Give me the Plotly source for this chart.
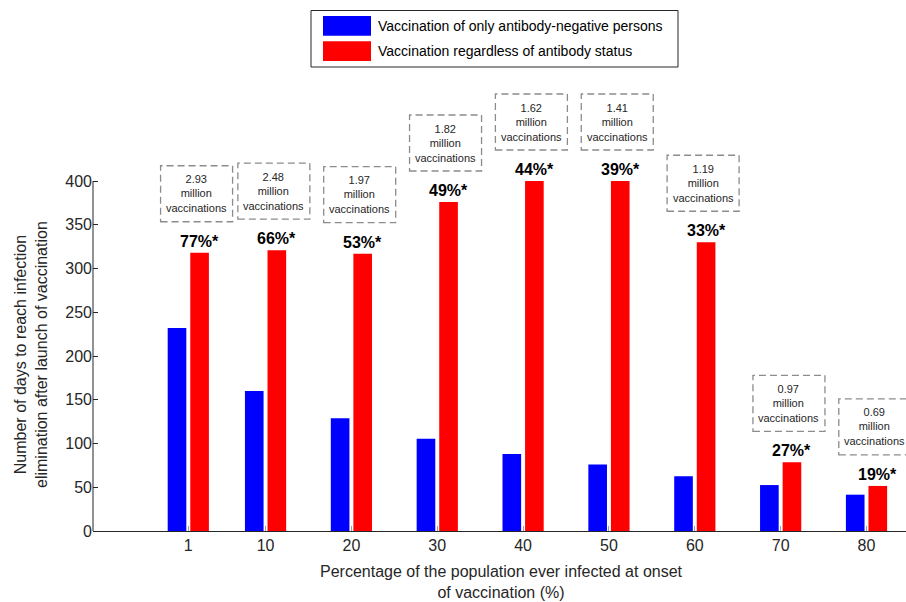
import plotly.graph_objects as go

# ---- data ----
x_vals = [1, 10, 20, 30, 40, 50, 60, 70, 80]
x_labels = ["1", "10", "20", "30", "40", "50", "60", "70", "80"]
blue_days = [232, 160, 129, 105.5, 88, 76, 62.5, 52.5, 41.5]
red_days = [318, 321, 317, 376, 400, 400, 330, 78.5, 51.5]
pct_labels = ["77%*", "66%*", "53%*", "49%*", "44%*", "39%*", "33%*", "27%*", "19%*"]
vacc_millions = ["2.93", "2.48", "1.97", "1.82", "1.62", "1.41", "1.19", "0.97", "0.69"]
y_ticks = [0, 50, 100, 150, 200, 250, 300, 350, 400]
series_names = ["Vaccination of only antibody-negative persons",
                "Vaccination regardless of antibody status"]

# ---- layout constants ----
W, H = 906, 602
L, R, T, B = 93, 0, 80, 71
PW, PH = W - L - R, H - T - B
FONT = "Liberation Sans, Arial, sans-serif"
DARK = "#262626"
BAR_W = 2.17
BLUE_OFF = -2.4
RED_OFF = 0.23

def px_x(p):
    return (p - L) / PW

def px_y(p):
    return (H - B - p) / PH

fig = go.Figure()
fig.add_trace(go.Bar(x=x_vals, y=blue_days, name=series_names[0],
                     marker=dict(color="#0000ff", line=dict(width=0)),
                     width=BAR_W, offset=BLUE_OFF))
fig.add_trace(go.Bar(x=x_vals, y=red_days, name=series_names[1],
                     marker=dict(color="#ff0000", line=dict(width=0)),
                     width=BAR_W, offset=RED_OFF))

shapes = []
annotations = []

# y-axis spine (0..400 only)
shapes.append(dict(type="line", xref="paper", yref="y", x0=0, x1=0, y0=0, y1=y_ticks[-1],
                   line=dict(color=DARK, width=1)))

red_center = RED_OFF + BAR_W / 2
for xv, rv, pl, vm in zip(x_vals, red_days, pct_labels, vacc_millions):
    xc = xv + red_center
    annotations.append(dict(x=xc, y=rv, xref="x", yref="y", text="<b>" + pl + "</b>",
                            showarrow=False, yanchor="bottom", yshift=1,
                            font=dict(family=FONT, size=16, color="#000000")))
    shapes.append(dict(type="rect", xref="x", yref="y",
                       xsizemode="pixel", ysizemode="pixel",
                       xanchor=xc, yanchor=rv, x0=-39, x1=33, y0=31, y1=87,
                       line=dict(color="#8c8c8c", width=1.3, dash="7px,4px"),
                       fillcolor="rgba(0,0,0,0)"))
    annotations.append(dict(x=xc, y=rv, xref="x", yref="y", xshift=-3,
                            text=vm + "<br>million<br>vaccinations",
                            showarrow=False, yanchor="middle", yshift=59,
                            font=dict(family=FONT, size=11, color=DARK)))

# legend (manual)
shapes.append(dict(type="rect", xref="paper", yref="paper",
                   x0=px_x(311), x1=px_x(678), y0=px_y(67), y1=px_y(10.5),
                   line=dict(color=DARK, width=1), fillcolor="white"))
for i, (col, name) in enumerate(zip(["#0000ff", "#ff0000"], series_names)):
    top = 16 + i * 25.3
    shapes.append(dict(type="rect", xref="paper", yref="paper",
                       x0=px_x(323), x1=px_x(371), y0=px_y(top + 19.7), y1=px_y(top),
                       line=dict(width=0), fillcolor=col))
    annotations.append(dict(x=px_x(376), y=px_y(top + 10), xref="paper", yref="paper",
                            text=name, showarrow=False, xanchor="left", yanchor="middle",
                            font=dict(family=FONT, size=14, color="#000000")))

# axis titles
annotations.append(dict(x=px_x(31), y=px_y(355), xref="paper", yref="paper",
                        text="Number of days to reach infection<br>elimination after launch of vaccination",
                        textangle=-90, showarrow=False, xanchor="center", yanchor="middle",
                        font=dict(family=FONT, size=16, color=DARK)))
annotations.append(dict(x=px_x(502), y=px_y(582), xref="paper", yref="paper",
                        text="Percentage of the population ever infected at onset<br>of vaccination (%)",
                        showarrow=False, xanchor="center", yanchor="middle",
                        font=dict(family=FONT, size=16, color=DARK)))

fig.update_layout(
    width=W, height=H,
    margin=dict(l=L, r=R, t=T, b=B, pad=0),
    paper_bgcolor="white", plot_bgcolor="white",
    showlegend=False,
    barmode="overlay",
    font=dict(family=FONT, size=16, color=DARK),
    shapes=shapes,
    annotations=annotations,
    xaxis=dict(range=[-10.1, 84.6], tickmode="array", tickvals=x_vals, ticktext=x_labels,
               ticks="inside", ticklen=5, tickcolor="#a0a0a0", tickwidth=1,
               showline=True, linecolor=DARK, linewidth=1,
               showgrid=False, zeroline=False,
               tickfont=dict(family=FONT, size=16, color=DARK)),
    yaxis=dict(range=[0, PH / 0.875], tickmode="array", tickvals=y_ticks,
               ticks="inside", ticklen=5, tickcolor=DARK, tickwidth=1,
               showline=False, showgrid=False, zeroline=False,
               tickfont=dict(family=FONT, size=16, color=DARK)),
)

fig.write_html("out.html",
               config={"displayModeBar": False},
               post_script="document.body.style.margin='0px';document.body.style.overflow='hidden';")
